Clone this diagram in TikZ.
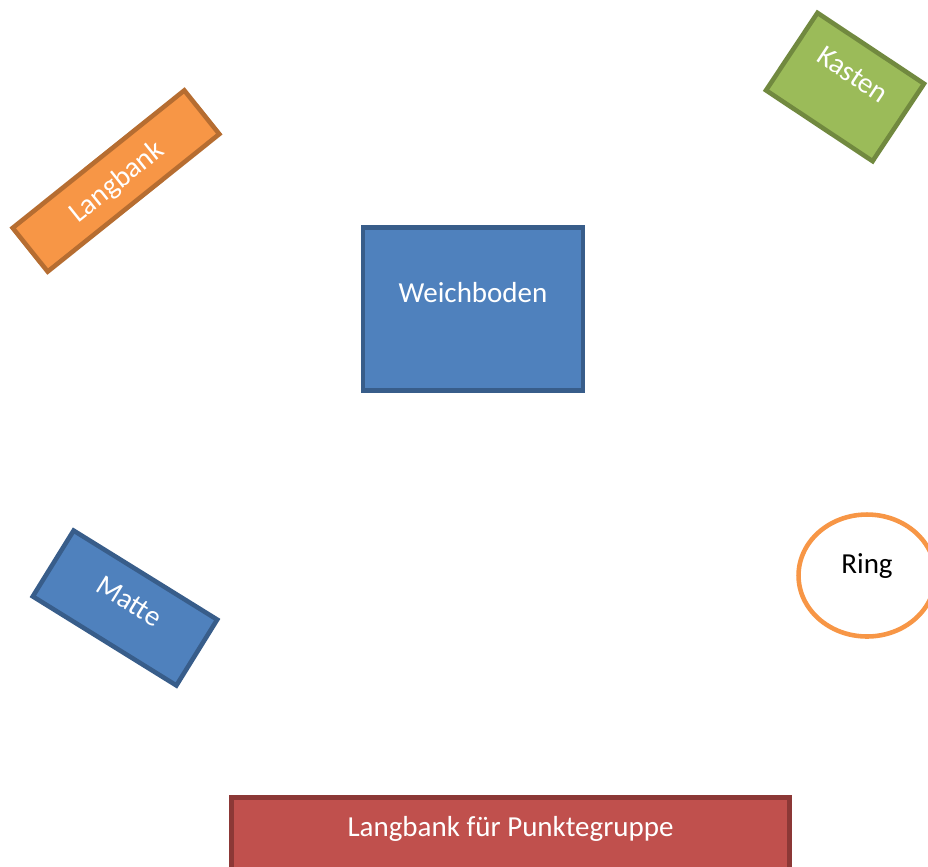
\documentclass[tikz,border=0pt]{standalone}
\usepackage{fontspec}
\setmainfont{Carlito}
\usetikzlibrary{shapes.geometric}
\usepackage{xcolor}
\definecolor{blaufill}{HTML}{4F81BD}
\definecolor{blaurand}{HTML}{385D8A}
\definecolor{orangefill}{HTML}{F79646}
\definecolor{orangerand}{HTML}{B66D31}
\definecolor{gruenfill}{HTML}{9BBB59}
\definecolor{gruenrand}{HTML}{71893F}
\definecolor{rotfill}{HTML}{C0504D}
\definecolor{rotrand}{HTML}{8C3836}
\tikzset{
geraet/.style={
  rectangle,
  draw,
  line width=2.6pt,
  inner sep=0pt,
  text=white,
  font=\fontsize{16.5}{20}\selectfont,
  text height=12pt
  },
blau/.style={geraet,fill=blaufill,draw=blaurand},
orange/.style={geraet,fill=orangefill,draw=orangerand},
gruen/.style={geraet,fill=gruenfill,draw=gruenrand},
rot/.style={geraet,fill=rotfill,draw=rotrand},
%reifen/.style={ellipse}
}

\begin{document}
\begin{tikzpicture}[x=0.02cm,y=-0.02cm]
    \useasboundingbox (0,0) rectangle (928,866);
    \clip (0,0) rectangle (928,866);

    \node [blau, minimum width=4.40cm, minimum height=3.26cm, text depth=19.4pt] (weichboden) at (473,309) {Weichboden};
    \node [orange, minimum width=4.40cm, minimum height=1.12cm, text depth=1pt, rotate=38.7] (langbank) at (116,181) {Langbank};
    \node [gruen, minimum width=2.56cm, minimum height=1.86cm, text depth=18pt, rotate=-33.6] (kasten) at (845,87) {Kasten};
    \node [blau, minimum width=3.38cm, minimum height=1.55cm, text depth=10.4pt, rotate=-31.8] (matte) at (125,608) {Matte};
    \node [ellipse, draw=orangefill, line width=2.6pt, inner sep=0pt, minimum width=2.74cm, minimum height=2.44cm,
           font=\fontsize{16.5}{20}\selectfont, text height=12pt, text depth=13.8pt] (ring) at (867,575.5) {Ring};
    \node [rot, anchor=north, minimum width=11.16cm, minimum height=1.70cm, text depth=16pt] (punkte) at (510.5,795) {Langbank für Punktegruppe};

\end{tikzpicture}
\end{document}
